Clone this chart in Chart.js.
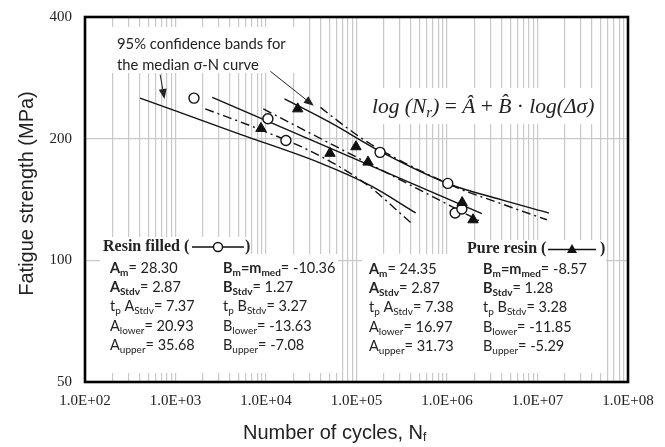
<!DOCTYPE html>
<html>
<head>
<meta charset="utf-8">
<script src="https://cdn.jsdelivr.net/npm/chart.js@4.4.0/dist/chart.umd.min.js"></script>
<style>
  html, body { margin: 0; padding: 0; background: #fff; }
  canvas { display: block; }
</style>
</head>
<body>
<canvas id="snChart" width="665" height="447"></canvas>
<script>
// --- test results: cycles to failure and stress (MPa) ---
const resinFilledN = [1600, 10500, 16600, 182000, 1020000, 1230000, 1460000];
const resinFilledS = [252, 224, 198, 185, 155, 131, 134];
const pureResinN = [8800, 22400, 50900, 98600, 134000, 1470000, 1940000];
const pureResinS = [212, 237, 184, 191, 175, 139, 126];

// --- median curves and 95% bands ---
const rfMedianN = [2550, 2430000];
const rfMedianS = [253, 130.5];
const rfLowerN = [406, 5200, 40000, 143000, 451000];
const rfLowerS = [252, 205, 174, 153, 131];
const rfUpperN = [16000, 51600, 185000, 1050000, 3950000, 13400000];
const rfUpperS = [251, 219, 185.7, 154.5, 141.3, 130.9];

const prMedianN = [9350, 2250000];
const prMedianS = [237, 125.4];
const prLowerN = [2130, 8670, 33500, 126000, 397000];
const prLowerS = [237, 210.5, 184.7, 154.8, 124];
const prUpperN = [40000, 75700, 143000, 1320000, 3650000, 12700000];
const prUpperS = [239, 214, 194, 151, 139, 126];

// --- axes ---
const xDecades = [1e2, 1e3, 1e4, 1e5, 1e6, 1e7, 1e8];
const xTickLabels = ['1.0E+02', '1.0E+03', '1.0E+04', '1.0E+05', '1.0E+06', '1.0E+07', '1.0E+08'];
const yTicks = [50, 100, 200, 400];
const yTickLabels = ['50', '100', '200', '400'];

// --- regression parameters printed on the plot ---
const rfParams = ['28.30', '-10.36', '2.87', '1.27', '7.37', '3.27', '20.93', '-13.63', '35.68', '-7.08'];
const prParams = ['24.35', '-8.57', '2.87', '1.28', '7.38', '3.28', '16.97', '-11.85', '31.73', '-5.29'];

// annotation arrows (tail -> head, in data units)
const arrowTailN = [677, 11190];
const arrowTailS = [288, 293.5];
const arrowHeadN = [755, 33700];
const arrowHeadS = [250.8, 241.3];

const pts = (xs, ys) => xs.map((x, i) => ({ x, y: ys[i] }));

// grid at 1..9 of every decade
const xGrid = [];
xDecades.forEach((d, i) => {
  if (i === xDecades.length - 1) { xGrid.push(d); return; }
  for (let m = 1; m < 10; m++) xGrid.push(d * m);
});

const SANS = 'Lato, "Open Sans", sans-serif';
const SERIF = '"Liberation Serif", "Times New Roman", serif';

function line(data, dashed, curved) {
  return {
    data,
    showLine: true,
    borderColor: '#111',
    borderWidth: 1.4,
    borderDash: dashed ? [9, 4, 2, 4] : [],
    pointRadius: 0,
    cubicInterpolationMode: curved ? 'monotone' : 'default',
    fill: false
  };
}

// text with subscripts: each run is [text, flags] with b = bold, s = subscript, i = italic
function drawRuns(ctx, x, y, runs, size, family) {
  ctx.textBaseline = 'middle';
  ctx.textAlign = 'left';
  for (const [t, f = ''] of runs) {
    const sub = f.includes('s');
    const fs = sub ? Math.round(size * 0.68) : size;
    ctx.font = (f.includes('i') ? 'italic ' : '') + (f.includes('b') ? 'bold ' : '') + fs + 'px ' + family;
    ctx.fillText(t, x, y + (sub ? size * 0.3 : 0));
    x += ctx.measureText(t).width;
  }
  return x;
}

function paramRows(v) {
  return [
    [[['A', 'b'], ['m', 'bs'], ['= ' + v[0]]], [['B', 'b'], ['m', 'bs'], ['=m', 'b'], ['med', 'bs'], ['= ' + v[1]]]],
    [[['A', 'b'], ['Stdv', 'bs'], ['= ' + v[2]]], [['B', 'b'], ['Stdv', 'bs'], ['= ' + v[3]]]],
    [[['t'], ['p', 's'], [' A'], ['Stdv', 's'], ['= ' + v[4]]], [['t'], ['p', 's'], [' B'], ['Stdv', 's'], ['= ' + v[5]]]],
    [[['A'], ['lower', 's'], ['= ' + v[6]]], [['B'], ['lower', 's'], ['= ' + v[7]]]],
    [[['A'], ['upper', 's'], ['= ' + v[8]]], [['B'], ['upper', 's'], ['= ' + v[9]]]]
  ];
}

function arrow(ctx, x1, y1, x2, y2) {
  const a = Math.atan2(y2 - y1, x2 - x1);
  ctx.beginPath();
  ctx.moveTo(x1, y1);
  ctx.lineTo(x2 - 6 * Math.cos(a), y2 - 6 * Math.sin(a));
  ctx.stroke();
  ctx.beginPath();
  ctx.moveTo(x2, y2);
  ctx.lineTo(x2 - 10 * Math.cos(a) + 4 * Math.sin(a), y2 - 10 * Math.sin(a) - 4 * Math.cos(a));
  ctx.lineTo(x2 - 10 * Math.cos(a) - 4 * Math.sin(a), y2 - 10 * Math.sin(a) + 4 * Math.cos(a));
  ctx.closePath();
  ctx.fill();
}

// white panels behind the text blocks, drawn over the grid
const panels = {
  id: 'panels',
  beforeDatasetsDraw(chart) {
    const ctx = chart.ctx;
    ctx.save();
    ctx.fillStyle = '#fff';
    [[105, 27, 300, 73], [368, 88, 598, 124],
     [100, 237, 250, 257], [100, 254, 338, 373],
     [465, 240, 606, 259], [362, 254, 606, 373]].forEach(([x1, y1, x2, y2]) => {
      ctx.fillRect(x1, y1, x2 - x1, y2 - y1);
    });
    ctx.restore();
  }
};

const decorations = {
  id: 'decorations',
  afterDraw(chart) {
    const { ctx, chartArea: a, scales: { x, y } } = chart;
    ctx.save();

    // frame
    ctx.strokeStyle = '#000';
    ctx.lineWidth = 2.6;
    ctx.strokeRect(a.left, a.top, a.right - a.left, a.bottom - a.top);

    // tick labels
    ctx.fillStyle = '#222';
    ctx.font = '15px ' + SERIF;
    ctx.textBaseline = 'middle';
    ctx.textAlign = 'right';
    yTicks.forEach((v, i) => ctx.fillText(yTickLabels[i], a.left - 13, y.getPixelForValue(v)));
    ctx.textAlign = 'center';
    xDecades.forEach((v, i) => ctx.fillText(xTickLabels[i], x.getPixelForValue(v), a.bottom + 19));

    // axis titles
    ctx.font = '20px "Liberation Sans", Arial, sans-serif';
    ctx.save();
    ctx.translate(27, (a.top + a.bottom) / 2 - 6);
    ctx.rotate(-Math.PI / 2);
    ctx.textAlign = 'center';
    ctx.fillText('Fatigue strength (MPa)', 0, 0);
    ctx.restore();
    const xt = 'Number of cycles, N';
    const w = ctx.measureText(xt).width;
    const x0 = 333 - w / 2;
    ctx.textAlign = 'left';
    ctx.fillText(xt, x0, 433);
    ctx.font = '12px "Liberation Sans", Arial, sans-serif';
    ctx.fillText('f', x0 + w, 438);

    // band annotation
    ctx.fillStyle = '#222';
    ctx.font = '14.8px ' + SANS;
    ctx.textAlign = 'left';
    ctx.fillText('95% confidence bands for', 117, 44);
    ctx.fillText('the median σ-N curve', 117, 65);
    ctx.strokeStyle = '#222';
    ctx.lineWidth = 1;
    arrowTailN.forEach((n, i) => arrow(ctx,
      x.getPixelForValue(n), y.getPixelForValue(arrowTailS[i]),
      x.getPixelForValue(arrowHeadN[i]), y.getPixelForValue(arrowHeadS[i])));

    // model equation
    ctx.fillStyle = '#222';
    const eq = [['log (N', 'i'], ['r', 'is'], [')', 'i'], [' = '], ['\u00C2', 'i'], [' + '], ['B\u0302', 'i'], [' \u00B7 '], ['log(\u0394\u03C3)', 'i']];
    drawRuns(ctx, 372, 107, eq, 21.5, SERIF);

    // parameter blocks
    ctx.fillStyle = '#222';
    ctx.font = 'bold 16px ' + SERIF;
    ctx.fillText('Resin filled (', 103, 247);
    ctx.fillText(')', 245, 247);
    ctx.fillText('Pure resin (', 467, 249);
    ctx.fillText(')', 600, 249);

    paramRows(rfParams).forEach((row, r) => {
      drawRuns(ctx, 110, 268 + r * 19.4, row[0], 14.5, SANS);
      drawRuns(ctx, 223, 268 + r * 19.4, row[1], 14.5, SANS);
    });
    paramRows(prParams).forEach((row, r) => {
      drawRuns(ctx, 369, 269 + r * 19.4, row[0], 14.5, SANS);
      drawRuns(ctx, 483, 269 + r * 19.4, row[1], 14.5, SANS);
    });

    // legend samples
    ctx.strokeStyle = '#111';
    ctx.lineWidth = 1.4;
    ctx.beginPath();
    ctx.moveTo(192, 247); ctx.lineTo(244, 247);
    ctx.moveTo(548, 249.5); ctx.lineTo(596, 249.5);
    ctx.stroke();
    ctx.fillStyle = '#fff';
    ctx.beginPath(); ctx.arc(218, 247, 4.5, 0, Math.PI * 2); ctx.fill(); ctx.stroke();
    ctx.fillStyle = '#111';
    ctx.beginPath();
    ctx.moveTo(572, 244); ctx.lineTo(577, 253); ctx.lineTo(567, 253);
    ctx.closePath(); ctx.fill();

    ctx.restore();
  }
};

new Chart(document.getElementById('snChart'), {
  type: 'scatter',
  data: {
    datasets: [
      { data: pts(pureResinN, pureResinS), pointStyle: 'triangle', pointRadius: 6,
        pointBackgroundColor: '#111', pointBorderColor: '#111', pointBorderWidth: 1, showLine: false },
      { data: pts(resinFilledN, resinFilledS), pointStyle: 'circle', pointRadius: 5,
        pointBackgroundColor: '#fff', pointBorderColor: '#111', pointBorderWidth: 1.4, showLine: false },
      line(pts(rfMedianN, rfMedianS), false, false),
      line(pts(rfLowerN, rfLowerS), false, true),
      line(pts(rfUpperN, rfUpperS), false, true),
      line(pts(prMedianN, prMedianS), true, false),
      line(pts(prLowerN, prLowerS), true, true),
      line(pts(prUpperN, prUpperS), true, true)
    ]
  },
  options: {
    responsive: false,
    animation: false,
    events: [],
    layout: { padding: { left: 0, right: 37, top: 17, bottom: 0 } },
    plugins: { legend: { display: false }, tooltip: { enabled: false } },
    scales: {
      x: {
        type: 'logarithmic', min: 100, max: 1e8,
        afterBuildTicks: s => { s.ticks = xGrid.map(v => ({ value: v })); },
        afterFit: s => { s.height = 65; },
        ticks: { display: false },
        border: { display: false },
        grid: { color: '#c9c9c9', lineWidth: 1.2, drawTicks: false }
      },
      y: {
        type: 'logarithmic', min: 50, max: 400,
        afterBuildTicks: s => { s.ticks = yTicks.map(v => ({ value: v })); },
        afterFit: s => { s.width = 85; },
        ticks: { display: false },
        border: { display: false },
        grid: { color: '#c9c9c9', lineWidth: 1.2, drawTicks: false }
      }
    }
  },
  plugins: [panels, decorations]
});
</script>
</body>
</html>
